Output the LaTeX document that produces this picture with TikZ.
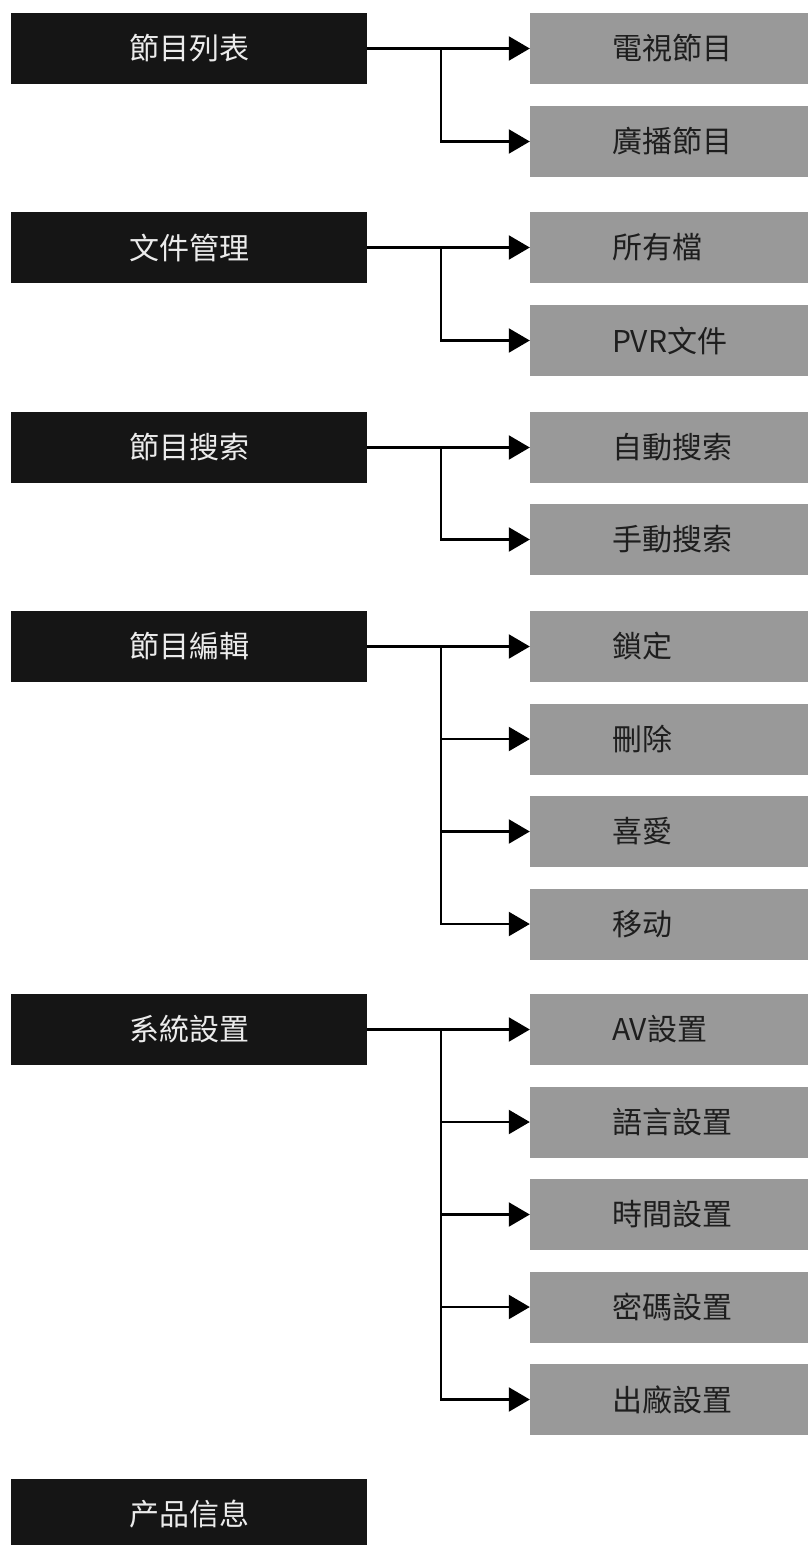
\documentclass[tikz,border=0pt]{standalone}
\usepackage{fontspec}
\usepackage{xcolor}
\usetikzlibrary{arrows.meta}
\setmainfont{Noto Sans CJK TC}

\definecolor{headblack}{HTML}{151515}
\definecolor{itemgray}{HTML}{999999}
\definecolor{itemtext}{HTML}{1E1E1E}

\begin{document}
\begin{tikzpicture}[x=1pt, y=-1pt,
    every node/.style={font=\fontsize{30}{34}\selectfont},
    head/.style={fill=headblack, text=white!92!black, minimum width=356pt, minimum height=71pt, inner sep=0pt},
    item/.style={fill=itemgray, text=itemtext, minimum height=71pt, inner ysep=0pt, inner xsep=82pt, text width=114pt, align=left},
    link/.style={line width=2.2pt, -{Triangle[length=21pt,width=24pt]}}]
    \useasboundingbox[fill=white] (0,0) rectangle (808,1545);

    % Menu heads
    \node[head] (list)   at (189,48.5)   {節目列表};
    \node[head] (file)   at (189,247.5)  {文件管理};
    \node[head] (search) at (189,447.5)  {節目搜索};
    \node[head] (edit)   at (189,646.5)  {節目編輯};
    \node[head] (sys)    at (189,1029.5) {系統設置};
    \node[head] (info)   at (189,1514.5) {产品信息};

    % Sub items
    \node[item] (tv)     at (669,48.5)   {電視節目};
    \node[item] (radio)  at (669,141.5)  {廣播節目};
    \node[item] (all)    at (669,247.5)  {所有檔};
    \node[item] (pvr)    at (669,340.5)  {PVR文件};
    \node[item] (auto)   at (669,447.5)  {自動搜索};
    \node[item] (manual) at (669,539.5)  {手動搜索};
    \node[item] (lock)   at (669,646.5)  {鎖定};
    \node[item] (del)    at (669,739)    {刪除};
    \node[item] (fav)    at (669,831.5)  {喜愛};
    \node[item] (move)   at (669,924)    {移动};
    \node[item] (av)     at (669,1029.5) {AV設置};
    \node[item] (lang)   at (669,1122)   {語言設置};
    \node[item] (time)   at (669,1214.5) {時間設置};
    \node[item] (pwd)    at (669,1307)   {密碼設置};
    \node[item] (reset)  at (669,1399.5) {出廠設置};

    % Fork points
    \coordinate (listfork)   at (441,48.5);
    \coordinate (filefork)   at (441,247.5);
    \coordinate (searchfork) at (441,447.5);
    \coordinate (editfork)   at (441,646.5);
    \coordinate (sysfork)    at (441,1029.5);

    % Connectors
    \draw[link] (list.east) -- (tv.west);
    \draw[link] (listfork) |- (radio.west);
    \draw[link] (file.east) -- (all.west);
    \draw[link] (filefork) |- (pvr.west);
    \draw[link] (search.east) -- (auto.west);
    \draw[link] (searchfork) |- (manual.west);
    \draw[link] (edit.east) -- (lock.west);
    \draw[link] (editfork) |- (del.west);
    \draw[link] (editfork) |- (fav.west);
    \draw[link] (editfork) |- (move.west);
    \draw[link] (sys.east) -- (av.west);
    \draw[link] (sysfork) |- (lang.west);
    \draw[link] (sysfork) |- (time.west);
    \draw[link] (sysfork) |- (pwd.west);
    \draw[link] (sysfork) |- (reset.west);
\end{tikzpicture}
\end{document}
